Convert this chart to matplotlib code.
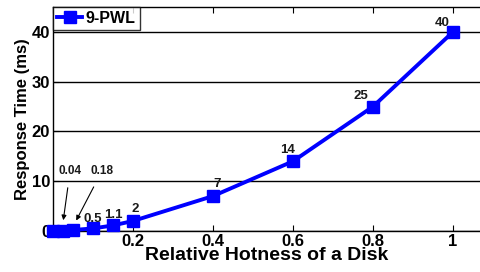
import matplotlib.pyplot as plt

plt.rcParams['font.family'] = ['Liberation Sans', 'DejaVu Sans']
plt.rcParams['font.weight'] = 'bold'

hotness = [0, 0.025, 0.05, 0.1, 0.15, 0.2, 0.4, 0.6, 0.8, 1.0]
resp_time = [0, 0.04, 0.18, 0.5, 1.1, 2, 7, 14, 25, 40]
point_labels = ['', '', '', '0.5', '1.1', '2', '7', '14', '25', '40']
# pixel offsets of the value labels
label_offsets = [(0, 0), (0, 0), (0, 0), (0, 9), (0, 10), (2, 12), (4, 12), (-5, 11), (-12, 11), (-11, 9)]

fig = plt.figure(figsize=(4.81, 2.72), dpi=100)
ax = fig.add_axes([0.110, 0.151, 0.89, 0.823])

ax.plot(hotness, resp_time, color='#0000ff', lw=2.8, marker='s', ms=8,
        label='9-PWL', zorder=3, clip_on=False)

for x, y, lab, off in zip(hotness, resp_time, point_labels, label_offsets):
    if lab:
        ax.annotate(lab, (x, y), xytext=off, textcoords='offset pixels',
                    ha='center', va='center', fontsize=9.5, fontweight='bold', color='#1a1a1a')

# small values get arrows
ax.annotate('0.04', xy=(hotness[1], 1.6), xytext=(0.043, 12.1), ha='center', va='center',
            fontsize=8.5, fontweight='bold', color='#1a1a1a',
            arrowprops=dict(arrowstyle='-|>', color='black', lw=0.8, shrinkA=6, mutation_scale=7))
ax.annotate('0.18', xy=(hotness[2] + 0.005, 1.6), xytext=(0.123, 12.1), ha='center', va='center',
            fontsize=8.5, fontweight='bold', color='#1a1a1a',
            arrowprops=dict(arrowstyle='-|>', color='black', lw=0.8, shrinkA=6, mutation_scale=7))

ax.set_xlim(0, 1.07)
ax.set_ylim(0, 45)
ax.set_xticks([0, 0.2, 0.4, 0.6, 0.8, 1])
ax.set_xticklabels(['', '0.2', '0.4', '0.6', '0.8', '1'])
ax.set_yticks([0, 10, 20, 30, 40])
ax.tick_params(direction='in', top=True, length=4, labelsize=12, pad=2)
ax.yaxis.grid(True, color='black', lw=1.0)
ax.set_axisbelow(True)
for s in ax.spines.values():
    s.set_linewidth(1.0)

ax.set_xlabel('Relative Hotness of a Disk', fontsize=14, fontweight='bold', labelpad=-1)
ax.set_ylabel('Response Time (ms)', fontsize=12, fontweight='bold', labelpad=1)

leg = ax.legend(loc='upper left', fontsize=11.5, frameon=True, fancybox=False,
                borderpad=0.25, handlelength=1.6, handletextpad=0.2, borderaxespad=0)
leg.get_frame().set_edgecolor('black')
leg.get_frame().set_linewidth(1.0)

fig.savefig('out.png', dpi=100)
